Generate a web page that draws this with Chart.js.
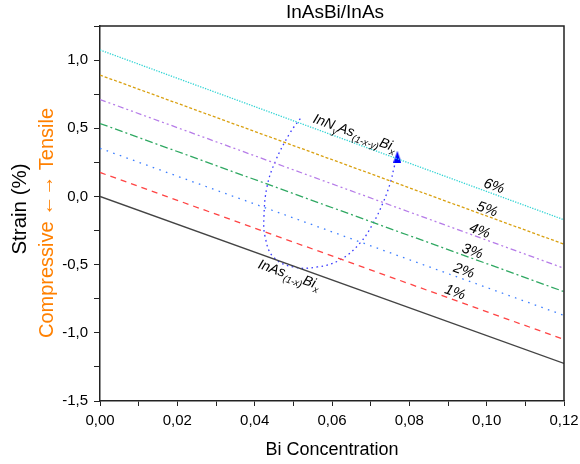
<!DOCTYPE html>
<html>
<head>
<meta charset="utf-8">
<script src="https://cdn.jsdelivr.net/npm/chart.js@4.4.0/dist/chart.umd.min.js"></script>
<style>
  html, body { margin: 0; padding: 0; background: #fff; }
</style>
</head>
<body>
<canvas id="chart1" width="580" height="464"></canvas>
<script>
// Bi concentration at both ends of the strain lines
const biX = [0, 0.12];

// strain (%) for InAsBi and InNAsBi with 1..6 % N
const strainInAsBi = [0, -1.225];
const strainN1 = [0.176, -1.049];
const strainN2 = [0.353, -0.872];
const strainN3 = [0.535, -0.698];
const strainN4 = [0.711, -0.527];
const strainN5 = [0.89, -0.35];
const strainN6 = [1.074, -0.171];

// hand drawn arrow loop
const loopX = [0.0518, 0.0492, 0.0453, 0.0432, 0.0424, 0.0427, 0.0448, 0.0499, 0.0562, 0.0621, 0.0673, 0.0707, 0.0732, 0.0751, 0.0761, 0.0769];
const loopY = [0.571, 0.469, 0.255, 0.072, -0.149, -0.296, -0.443, -0.517, -0.517, -0.465, -0.340, -0.193, -0.046, 0.101, 0.218, 0.292];

// percent labels
const pctText = ['1%', '2%', '3%', '4%', '5%', '6%'];
const pctX = [0.0919, 0.0942, 0.0964, 0.0983, 0.1002, 0.1020];
const pctY = [-0.697, -0.539, -0.395, -0.245, -0.087, 0.082];

const FONT = "'Liberation Sans', Arial, sans-serif";

const toPoints = (xs, ys) => xs.map((x, i) => ({x: x, y: ys[i]}));

const makeLine = (ys, color, dash) => ({
    data: toPoints(biX, ys),
    borderColor: color,
    borderWidth: 1.3,
    borderDash: dash,
    pointRadius: 0,
    fill: false,
    tension: 0
});

// narrow arrow head for the loop end
const arrowHead = document.createElement('canvas');
arrowHead.width = 8;
arrowHead.height = 12;
(() => {
    const c = arrowHead.getContext('2d');
    c.fillStyle = '#0000ff';
    c.beginPath();
    c.moveTo(4, 0);
    c.lineTo(8, 12);
    c.lineTo(0, 12);
    c.closePath();
    c.fill();
})();

// rotated text with subscripts
const drawRich = (ctx, x, y, angle, parts, mainSize, subSize) => {
    ctx.save();
    ctx.translate(x, y);
    ctx.rotate(angle);
    let total = 0;
    parts.forEach(p => {
        ctx.font = 'italic ' + (p[1] ? subSize : mainSize) + 'px ' + FONT;
        total += ctx.measureText(p[0]).width;
    });
    let cx = -total / 2;
    ctx.textAlign = 'left';
    ctx.textBaseline = 'alphabetic';
    ctx.fillStyle = '#000';
    parts.forEach(p => {
        ctx.font = 'italic ' + (p[1] ? subSize : mainSize) + 'px ' + FONT;
        ctx.fillText(p[0], cx, mainSize * 0.36 + (p[1] ? 4 : 0));
        cx += ctx.measureText(p[0]).width;
    });
    ctx.restore();
};

const extras = {
    id: 'extras',
    afterDraw(chart) {
        const ctx = chart.ctx;
        const xs = chart.scales.x;
        const ys = chart.scales.y;
        const a = chart.chartArea;

        // frame top and right
        ctx.save();
        ctx.strokeStyle = '#222';
        ctx.lineWidth = 1.5;
        ctx.beginPath();
        ctx.moveTo(a.left, a.top);
        ctx.lineTo(a.right, a.top);
        ctx.lineTo(a.right, a.bottom);
        ctx.stroke();
        ctx.restore();

        // title over the plot area
        ctx.save();
        ctx.font = '19px ' + FONT;
        ctx.fillStyle = '#000';
        ctx.textAlign = 'center';
        ctx.textBaseline = 'middle';
        ctx.fillText('InAsBi/InAs', (a.left + a.right) / 2 + 3, 13);
        ctx.restore();

        const angle = Math.atan2(
            ys.getPixelForValue(strainInAsBi[1]) - ys.getPixelForValue(strainInAsBi[0]),
            xs.getPixelForValue(biX[1]) - xs.getPixelForValue(biX[0]));

        pctText.forEach((t, i) => {
            drawRich(ctx, xs.getPixelForValue(pctX[i]), ys.getPixelForValue(pctY[i]), angle, [[t, false]], 14.5, 10);
        });

        drawRich(ctx, xs.getPixelForValue(0.0660), ys.getPixelForValue(0.470), angle,
            [['InN', false], ['y', true], ['As', false], ['(1-x-y)', true], ['Bi', false], ['x', true]], 14, 9.5);
        drawRich(ctx, xs.getPixelForValue(0.0490), ys.getPixelForValue(-0.568), angle,
            [['InAs', false], ['(1-x)', true], ['Bi', false], ['x', true]], 14, 9.5);

        // y axis titles
        ctx.save();
        ctx.textAlign = 'center';
        ctx.textBaseline = 'middle';
        ctx.font = '20.5px ' + FONT;
        ctx.translate(20, 209);
        ctx.rotate(-Math.PI / 2);
        ctx.fillStyle = '#000';
        ctx.fillText('Strain (%)', 0, 0);
        ctx.restore();

        ctx.save();
        ctx.textAlign = 'center';
        ctx.textBaseline = 'middle';
        ctx.font = '20px ' + FONT;
        ctx.translate(47, 223);
        ctx.rotate(-Math.PI / 2);
        ctx.fillStyle = '#ff8000';
        ctx.fillText('Compressive \u2190\u2192 Tensile', 0, 0);
        ctx.restore();
    }
};

const ctx = document.getElementById('chart1');
new Chart(ctx, {
    type: 'line',
    data: {
        datasets: [
            makeLine(strainInAsBi, '#444444', []),
            makeLine(strainN1, '#ff4444', [6, 5]),
            makeLine(strainN2, '#3d7fff', [1.6, 5.4]),
            makeLine(strainN3, '#2fa862', [8, 3, 2, 3]),
            makeLine(strainN4, '#b67ce8', [6, 3, 2, 3, 2, 3]),
            makeLine(strainN5, '#d9a010', [3, 2]),
            makeLine(strainN6, '#33d4d4', [1.3, 1.3]),
            {
                data: toPoints(loopX, loopY),
                borderColor: '#3a3aff',
                borderWidth: 1.3,
                borderDash: [1.6, 3.4],
                tension: 0.4,
                fill: false,
                pointStyle: loopX.map((v, i) => i === loopX.length - 1 ? arrowHead : 'circle'),
                pointRadius: loopX.map((v, i) => i === loopX.length - 1 ? 6 : 0)
            }
        ]
    },
    options: {
        responsive: false,
        animation: false,
        layout: { padding: { left: 0, right: 16, top: 26, bottom: 0 } },
        plugins: {
            legend: { display: false },
            tooltip: { enabled: false },
            title: { display: false }
        },
        scales: {
            x: {
                type: 'linear',
                min: 0,
                max: 0.12,
                afterFit: (scale) => { scale.height = 63; scale.paddingRight = 0; },
                border: { display: true, color: '#222', width: 1.5 },
                grid: { drawOnChartArea: false, tickLength: 5, color: '#222', tickWidth: 1 },
                ticks: {
                    stepSize: 0.01,
                    padding: 6,
                    color: '#000',
                    font: { family: FONT, size: 15 },
                    autoSkip: false,
                    maxRotation: 0,
                    callback: (v, i) => i % 2 === 0 ? v.toFixed(2).replace('.', ',') : ''
                },
                title: {
                    display: true,
                    text: 'Bi Concentration',
                    color: '#000',
                    font: { family: FONT, size: 18 },
                    padding: { top: 0, bottom: 3 }
                }
            },
            y: {
                min: -1.5,
                max: 1.25,
                afterFit: (scale) => { scale.width = 100; scale.paddingTop = 0; },
                border: { display: true, color: '#222', width: 1.5 },
                grid: { drawOnChartArea: false, tickLength: 6, color: '#222', tickWidth: 1 },
                ticks: {
                    stepSize: 0.25,
                    padding: 6,
                    color: '#000',
                    font: { family: FONT, size: 15 },
                    autoSkip: false,
                    callback: (v) => Math.abs(v * 2 - Math.round(v * 2)) < 1e-6 ? v.toFixed(1).replace('.', ',') : ''
                }
            }
        }
    },
    plugins: [extras]
});
</script>
</body>
</html>
